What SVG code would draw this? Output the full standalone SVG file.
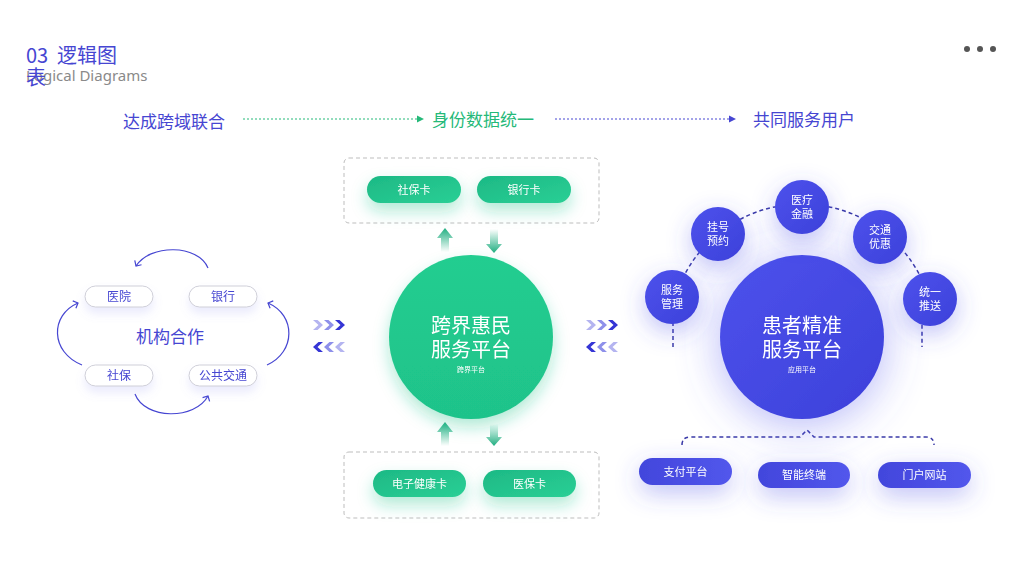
<svg xmlns="http://www.w3.org/2000/svg" width="1024" height="576" viewBox="0 0 1024 576">
<style>
.cn{font-family:"Noto Sans CJK SC","Noto Sans",sans-serif}
.blueT{fill:#4646d2}
.greenT{fill:#25b979}
.wt{fill:#ffffff;text-anchor:middle}
.pillW{fill:#ffffff;stroke:#cfcfd8;stroke-width:1}
.pillTxt{fill:#4646d2;font-size:12px;text-anchor:middle}
.arc{fill:none;stroke:#4646d2;stroke-width:1.2}
.dashbox{fill:none;stroke:#bdbdbd;stroke-width:1;stroke-dasharray:4 3}
.bdash{fill:none;stroke:#3a3aa8;stroke-width:1.5;stroke-dasharray:4 3}
</style>
<defs>
<linearGradient id="gp" x1="0" y1="0" x2="1" y2="1">
<stop offset="0" stop-color="#1db985"/><stop offset="1" stop-color="#2acf95"/>
</linearGradient>
<linearGradient id="gc" x1="0" y1="0" x2="0" y2="1">
<stop offset="0" stop-color="#22cd90"/><stop offset="1" stop-color="#1fc38a"/>
</linearGradient>
<linearGradient id="bc" x1="0" y1="0" x2="1" y2="1">
<stop offset="0" stop-color="#4d52ec"/><stop offset="1" stop-color="#3c40da"/>
</linearGradient>
<linearGradient id="bp" x1="0" y1="0" x2="1" y2="0">
<stop offset="0" stop-color="#4246dc"/><stop offset="1" stop-color="#5257ec"/>
</linearGradient>
<linearGradient id="au" x1="0" y1="0" x2="0" y2="1">
<stop offset="0" stop-color="#1fae80"/><stop offset="1" stop-color="#1fae80" stop-opacity="0"/>
</linearGradient>
<linearGradient id="ad" x1="0" y1="1" x2="0" y2="0">
<stop offset="0" stop-color="#1fae80"/><stop offset="1" stop-color="#1fae80" stop-opacity="0"/>
</linearGradient>
<filter id="gs" filterUnits="userSpaceOnUse" x="0" y="0" width="1024" height="576">
<feGaussianBlur in="SourceAlpha" stdDeviation="8"/><feOffset dy="8" result="b"/>
<feFlood flood-color="#1fc38a" flood-opacity="0.35"/><feComposite in2="b" operator="in"/>
<feMerge><feMergeNode/><feMergeNode in="SourceGraphic"/></feMerge>
</filter>
<filter id="bs" filterUnits="userSpaceOnUse" x="0" y="0" width="1024" height="576">
<feGaussianBlur in="SourceAlpha" stdDeviation="12"/><feOffset dy="8" result="b"/>
<feFlood flood-color="#4a4ee8" flood-opacity="0.35"/><feComposite in2="b" operator="in"/>
<feMerge><feMergeNode/><feMergeNode in="SourceGraphic"/></feMerge>
</filter>
<filter id="bbig" filterUnits="userSpaceOnUse" x="0" y="0" width="1024" height="576">
<feGaussianBlur in="SourceAlpha" stdDeviation="22"/><feOffset dy="6" result="b"/>
<feFlood flood-color="#5a5ef0" flood-opacity="0.45"/><feComposite in2="b" operator="in"/>
<feMerge><feMergeNode/><feMergeNode in="SourceGraphic"/></feMerge>
</filter>
<filter id="ls" filterUnits="userSpaceOnUse" x="0" y="0" width="1024" height="576">
<feGaussianBlur in="SourceAlpha" stdDeviation="5"/><feOffset dy="6" result="b"/>
<feFlood flood-color="#8c8ff0" flood-opacity="0.18"/><feComposite in2="b" operator="in"/>
<feMerge><feMergeNode/><feMergeNode in="SourceGraphic"/></feMerge>
</filter>
<marker id="mg" markerWidth="8" markerHeight="8" refX="6" refY="4" orient="auto" markerUnits="userSpaceOnUse">
<path d="M0,0.5 L7,4 L0,7.5 Z" fill="#25b979"/>
</marker>
<marker id="mb" markerWidth="8" markerHeight="8" refX="6" refY="4" orient="auto" markerUnits="userSpaceOnUse">
<path d="M0,0.5 L7,4 L0,7.5 Z" fill="#4646d2"/>
</marker>
<marker id="mo" markerWidth="10" markerHeight="10" refX="5" refY="5" orient="auto" markerUnits="userSpaceOnUse">
<path d="M1,1 L5,5 L1,9" fill="none" stroke="#4646d2" stroke-width="1.2"/>
</marker>
<path id="chr" d="M0,-5 L4.5,-5 L10,0 L4.5,5 L0,5 L5.5,0 Z"/>
<path id="chl" d="M10,-5 L5.5,-5 L0,0 L5.5,5 L10,5 L4.5,0 Z"/>
</defs>

<rect width="1024" height="576" fill="#ffffff"/>

<g id="title" class="cn">
<text y="63" font-size="20" class="blueT"><tspan x="26">03</tspan><tspan x="57">逻辑图</tspan></text>
<text x="26" y="81" font-size="15" fill="#8a8a8a" font-family="Noto Sans,sans-serif">Logical Diagrams</text>
<text x="26" y="85" font-size="20" class="blueT">表</text>
</g>
<g id="menu" fill="#555555">
<circle cx="967" cy="49" r="3"/><circle cx="980" cy="49" r="3"/><circle cx="993" cy="49" r="3"/>
</g>

<g id="header" class="cn" font-size="17">
<text x="123" y="128" class="blueT">达成跨域联合</text>
<text x="432" y="126" class="greenT">身份数据统一</text>
<text x="753" y="126" class="blueT">共同服务用户</text>
</g>

<g id="connectors">
<line x1="243" y1="119" x2="423" y2="119" stroke="#25b979" stroke-width="1" stroke-dasharray="2 2" marker-end="url(#mg)"/>
<line x1="555" y1="119" x2="735" y2="119" stroke="#4646d2" stroke-width="1" stroke-dasharray="2 2" marker-end="url(#mb)"/>
<path class="arc" d="M208,268 C198,244 150,244 136,266" marker-end="url(#mo)"/>
<path class="arc" d="M82,365 C50,352 50,315 78,303" marker-end="url(#mo)"/>
<path class="arc" d="M267,365 C296,352 296,315 268,303" marker-end="url(#mo)"/>
<path class="arc" d="M135,394 C145,420 195,420 208,396" marker-end="url(#mo)"/>
<path class="bdash" d="M673,347 L673,304.6 A133,133 0 0 1 922,279.7 L922,347"/>
<path class="bdash" d="M682,445 Q682,437 690,437 L800,437 L807,430 L814,437 L926,437 Q934,437 934,445"/>
<path d="M441,238 L441,252 L449,252 L449,238 L453,238 L445,228 L437,238 Z" fill="url(#au)"/>
<path d="M490,229 L490,244 L486,244 L494,253 L502,244 L498,244 L498,229 Z" fill="url(#ad)"/>
<path d="M441,432 L441,446 L449,446 L449,432 L453,432 L445,422 L437,432 Z" fill="url(#au)"/>
<path d="M490,424 L490,437 L486,437 L494,446 L502,437 L498,437 L498,424 Z" fill="url(#ad)"/>
<use href="#chr" x="313" y="325" fill="#b4b4f0"/><use href="#chr" x="324" y="325" fill="#8e90ea"/><use href="#chr" x="335" y="325" fill="#3535d5"/>
<use href="#chl" x="313" y="347" fill="#3535d5"/><use href="#chl" x="324" y="347" fill="#8e90ea"/><use href="#chl" x="335" y="347" fill="#b4b4f0"/>
<use href="#chr" x="586" y="325" fill="#b4b4f0"/><use href="#chr" x="597" y="325" fill="#8e90ea"/><use href="#chr" x="608" y="325" fill="#3535d5"/>
<use href="#chl" x="586" y="347" fill="#3535d5"/><use href="#chl" x="597" y="347" fill="#8e90ea"/><use href="#chl" x="608" y="347" fill="#b4b4f0"/>
</g>

<g id="left-cluster" class="cn">
<text x="170" y="343" font-size="17" class="blueT" text-anchor="middle">机构合作</text>
<g id="n-yiyuan" filter="url(#ls)"><rect class="pillW" x="85" y="286" width="68" height="21" rx="10.5"/><text class="pillTxt" x="119" y="301">医院</text></g>
<g id="n-yinhang" filter="url(#ls)"><rect class="pillW" x="189" y="286" width="68" height="21" rx="10.5"/><text class="pillTxt" x="223" y="301">银行</text></g>
<g id="n-shebao" filter="url(#ls)"><rect class="pillW" x="85" y="365" width="68" height="21" rx="10.5"/><text class="pillTxt" x="119" y="380">社保</text></g>
<g id="n-gongjiao" filter="url(#ls)"><rect class="pillW" x="189" y="365" width="68" height="21" rx="10.5"/><text class="pillTxt" x="223" y="380">公共交通</text></g>
</g>

<g id="center" class="cn">
<rect class="dashbox" x="344" y="158" width="255" height="65" rx="5"/>
<rect class="dashbox" x="344" y="452" width="255" height="66" rx="5"/>
<g id="n-shebaoka" filter="url(#gs)"><rect x="367" y="176" width="94" height="27" rx="13.5" fill="url(#gp)"/><text class="wt" x="414" y="193.5" font-size="11">社保卡</text></g>
<g id="n-yinhangka" filter="url(#gs)"><rect x="477" y="176" width="94" height="27" rx="13.5" fill="url(#gp)"/><text class="wt" x="524" y="193.5" font-size="11">银行卡</text></g>
<g id="n-kuajie" filter="url(#gs)"><circle cx="471" cy="337" r="82" fill="url(#gc)"/>
<text class="wt" x="471" y="333" font-size="20">跨界惠民</text>
<text class="wt" x="471" y="357" font-size="20">服务平台</text>
<text class="wt" x="471" y="372" font-size="7">跨界平台</text></g>
<g id="n-dianzi" filter="url(#gs)"><rect x="373" y="470" width="93" height="27" rx="13.5" fill="url(#gp)"/><text class="wt" x="419.5" y="487.5" font-size="11">电子健康卡</text></g>
<g id="n-yibaoka" filter="url(#gs)"><rect x="483" y="470" width="93" height="27" rx="13.5" fill="url(#gp)"/><text class="wt" x="529.5" y="487.5" font-size="11">医保卡</text></g>
</g>

<g id="right" class="cn">
<g id="n-huanzhe" filter="url(#bbig)"><circle cx="802" cy="337" r="82" fill="url(#bc)"/>
<text class="wt" x="802" y="333" font-size="20">患者精准</text>
<text class="wt" x="802" y="357" font-size="20">服务平台</text>
<text class="wt" x="802" y="372" font-size="7">应用平台</text></g>
<g id="n-fuwu" filter="url(#bs)"><circle cx="672" cy="297" r="27" fill="url(#bc)"/><text class="wt" x="672" y="294" font-size="11">服务</text><text class="wt" x="672" y="308" font-size="11">管理</text></g>
<g id="n-guahao" filter="url(#bs)"><circle cx="718" cy="234" r="27" fill="url(#bc)"/><text class="wt" x="718" y="231" font-size="11">挂号</text><text class="wt" x="718" y="245" font-size="11">预约</text></g>
<g id="n-yiliao" filter="url(#bs)"><circle cx="802" cy="207" r="27" fill="url(#bc)"/><text class="wt" x="802" y="204" font-size="11">医疗</text><text class="wt" x="802" y="218" font-size="11">金融</text></g>
<g id="n-jiaotong" filter="url(#bs)"><circle cx="880" cy="237" r="27" fill="url(#bc)"/><text class="wt" x="880" y="234" font-size="11">交通</text><text class="wt" x="880" y="248" font-size="11">优惠</text></g>
<g id="n-tongyi" filter="url(#bs)"><circle cx="930" cy="299" r="27" fill="url(#bc)"/><text class="wt" x="930" y="296" font-size="11">统一</text><text class="wt" x="930" y="310" font-size="11">推送</text></g>
<g id="n-zhifu" filter="url(#bs)"><rect x="639" y="458" width="93" height="27" rx="13.5" fill="url(#bp)"/><text class="wt" x="685.5" y="475.5" font-size="11">支付平台</text></g>
<g id="n-zhineng" filter="url(#bs)"><rect x="758" y="462" width="92" height="26" rx="13" fill="url(#bp)"/><text class="wt" x="804" y="479" font-size="11">智能终端</text></g>
<g id="n-menhu" filter="url(#bs)"><rect x="878" y="462" width="93" height="26" rx="13" fill="url(#bp)"/><text class="wt" x="924.5" y="479" font-size="11">门户网站</text></g>
</g>
</svg>
